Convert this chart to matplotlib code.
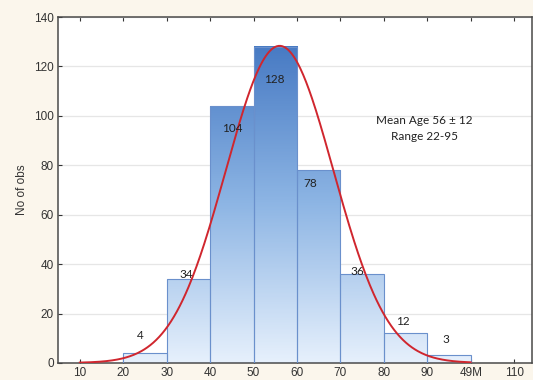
import numpy as np
import matplotlib
matplotlib.use("Agg")
import matplotlib.pyplot as plt
from matplotlib.colors import LinearSegmentedColormap

# Data
bin_edges = [20, 30, 40, 50, 60, 70, 80, 90, 100]
counts = [4, 34, 104, 128, 78, 36, 12, 3]
label_pos_x = [24.0, 34.5, 45.1, 54.8, 63.1, 73.9, 84.3, 94.4]
label_pos_y = [10.9, 35.6, 95.0, 114.8, 72.8, 37.2, 16.7, 9.3]
fit_mean = 56.0
fit_sd = 12.4
xtick_vals = [10, 20, 30, 40, 50, 60, 70, 80, 90, 100, 110]
xtick_labels = ["10", "20", "30", "40", "50", "60", "70", "80", "90", "49M", "110"]
ytick_vals = [0, 20, 40, 60, 80, 100, 120, 140]

fig = plt.figure(figsize=(5.33, 3.8), dpi=100)
fig.patch.set_facecolor("#FBF6EC")
ax = fig.add_axes([0.109, 0.045, 0.889, 0.91])
ax.set_facecolor("white")

cmap = LinearSegmentedColormap.from_list("g", ["#E6F0FC", "#8DB5E4", "#4679C3"])
ymax_grad = 130.0
for i, c in enumerate(counts):
    x0, x1 = bin_edges[i], bin_edges[i + 1]
    grad = np.linspace(0, c / ymax_grad, 100).reshape(-1, 1)
    ax.imshow(grad, extent=[x0, x1, 0, c], origin="lower", aspect="auto",
              cmap=cmap, vmin=0, vmax=1, zorder=2, interpolation="bilinear")
widths = np.diff(bin_edges)
ax.bar(bin_edges[:-1], counts, width=widths, align="edge", fill=False,
       edgecolor="#6A90CC", linewidth=0.8, zorder=3)

# Fitted normal curve
n = sum(counts)
bw = bin_edges[1] - bin_edges[0]
xs = np.linspace(10, 100, 400)
ys = n * bw / (fit_sd * np.sqrt(2 * np.pi)) * np.exp(-0.5 * ((xs - fit_mean) / fit_sd) ** 2)
ax.plot(xs, ys, color="#D0262E", linewidth=1.4, zorder=4)

lblfont = "Lato"
for c, lx, ly in zip(counts, label_pos_x, label_pos_y):
    ax.text(lx, ly, str(c), ha="center", va="center", fontsize=8.5,
            family=lblfont, color="#222222", zorder=5)

ax.text(89.3, 98, "Mean Age 56 \u00b1 12", ha="center", va="center",
        fontsize=8.5, family=lblfont, color="#222222", zorder=5)
ax.text(89.3, 91.5, "Range 22-95", ha="center", va="center",
        fontsize=8.5, family=lblfont, color="#222222", zorder=5)

ax.set_xlim(5, 114.1)
ax.set_ylim(0, 140)
ax.set_xticks(xtick_vals)
ax.set_xticklabels(xtick_labels)
ax.set_yticks(ytick_vals)
ax.yaxis.grid(True, color="#E6E6E6", linewidth=0.9, zorder=0)
ax.set_axisbelow(True)
ax.tick_params(axis="both", labelsize=8.5, colors="#333333", length=3, width=0.8,
               direction="in", pad=3)
ax.tick_params(axis="x", top=True)
for lab in ax.get_xticklabels() + ax.get_yticklabels():
    lab.set_family("Liberation Sans")
for s in ax.spines.values():
    s.set_color("#4A4A4A")
    s.set_linewidth(1.1)
ax.set_ylabel("No of obs", fontsize=8.5, family="Liberation Sans", color="#333333", labelpad=4)

fig.savefig("out.png", dpi=100, facecolor=fig.get_facecolor())
